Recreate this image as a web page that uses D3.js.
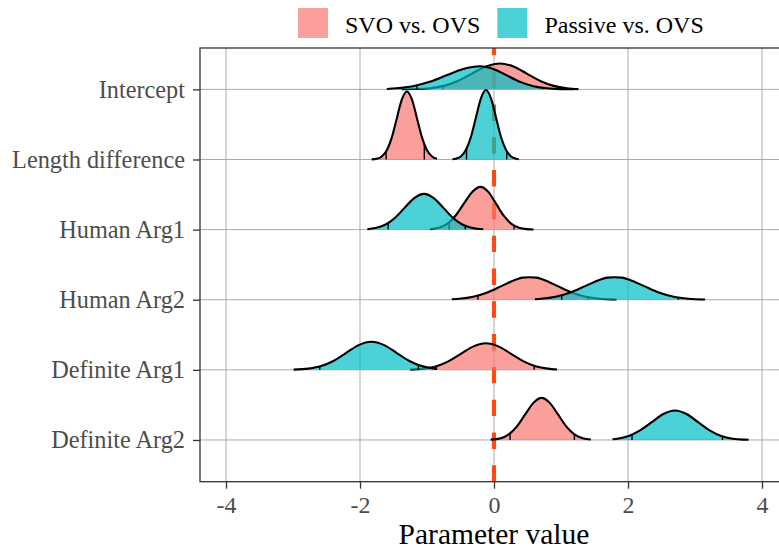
<!DOCTYPE html>
<html><head><meta charset="utf-8">
<script src="https://cdn.jsdelivr.net/npm/d3@7"></script>
<style>body{margin:0;background:#fff} svg{display:block}</style>
</head><body><svg id="c" width="779" height="549"></svg>
<script>
const categories = ["Intercept","Length difference","Human Arg1","Human Arg2","Definite Arg1","Definite Arg2"];
const seriesNames = ["SVO vs. OVS","Passive vs. OVS"];
const xTicks = [-4,-2,0,2,4];
const xTickLabels = ["-4","-2","0","2","4"];
const refLine = 0;

// density outlines: parameter values and ridge heights (in row units)
const svoX = [
  [-1.38,-1.17,-0.96,-0.75,-0.54,-0.33,-0.12,0.09,0.29,0.49,0.69,0.89,1.09,1.26],
  [-1.825,-1.75,-1.675,-1.60,-1.525,-1.45,-1.375,-1.30,-1.225,-1.15,-1.075,-1.0,-0.925,-0.85],
  [-0.955,-0.825,-0.70,-0.575,-0.45,-0.325,-0.20,-0.085,0.03,0.145,0.26,0.375,0.49,0.59],
  [-0.63,-0.52,-0.31,-0.10,0.11,0.32,0.425,0.53,0.635,0.74,0.95,1.16,1.37,1.58,1.83],
  [-1.25,-1.045,-0.86,-0.675,-0.49,-0.305,-0.12,0.065,0.25,0.435,0.62,0.805,0.94],
  [-0.05,0.10,0.22,0.343,0.465,0.588,0.71,0.833,0.955,1.078,1.20,1.323,1.445]
];
const svoH = [
  [0.002,0.005,0.016,0.05,0.12,0.225,0.326,0.37,0.326,0.225,0.12,0.05,0.016,0.004],
  [0.002,0.011,0.043,0.131,0.315,0.589,0.856,0.97,0.856,0.589,0.315,0.131,0.043,0.011],
  [0.006,0.027,0.082,0.198,0.37,0.538,0.61,0.538,0.37,0.198,0.082,0.027,0.007,0.002],
  [0.007,0.014,0.043,0.104,0.194,0.285,0.315,0.32,0.315,0.285,0.194,0.104,0.043,0.014,0.003],
  [0.004,0.017,0.051,0.124,0.231,0.335,0.38,0.335,0.231,0.124,0.051,0.017,0.006],
  [0.005,0.026,0.081,0.195,0.364,0.529,0.60,0.529,0.364,0.195,0.081,0.026,0.007]
];
const passiveX = [
  [-1.60,-1.46,-1.21,-0.96,-0.71,-0.46,-0.21,-0.01,0.19,0.39,0.59,0.79,0.99,1.20],
  [-0.62,-0.57,-0.495,-0.42,-0.345,-0.27,-0.195,-0.12,-0.045,0.03,0.105,0.18,0.255,0.33,0.37],
  [-1.89,-1.77,-1.625,-1.48,-1.335,-1.19,-1.045,-0.90,-0.755,-0.61,-0.465,-0.32,-0.16],
  [0.61,0.70,0.92,1.14,1.36,1.58,1.69,1.80,1.91,2.02,2.24,2.46,2.68,2.90,3.15],
  [-2.99,-2.77,-2.58,-2.39,-2.205,-2.02,-1.83,-1.64,-1.455,-1.27,-1.08,-0.895,-0.85],
  [1.77,1.84,2.01,2.18,2.355,2.528,2.70,2.873,3.045,3.218,3.39,3.563,3.735,3.80]
];
const passiveH = [
  [0.006,0.015,0.045,0.107,0.20,0.291,0.33,0.291,0.20,0.107,0.045,0.015,0.004,0.001],
  [0.004,0.011,0.043,0.134,0.32,0.60,0.873,0.99,0.873,0.60,0.32,0.134,0.043,0.011,0.004],
  [0.006,0.022,0.069,0.166,0.31,0.45,0.51,0.45,0.31,0.166,0.069,0.022,0.005],
  [0.008,0.014,0.043,0.104,0.194,0.285,0.315,0.32,0.315,0.285,0.194,0.104,0.043,0.014,0.003],
  [0.003,0.018,0.054,0.13,0.243,0.353,0.40,0.353,0.243,0.13,0.054,0.018,0.012],
  [0.011,0.018,0.057,0.137,0.255,0.37,0.42,0.37,0.255,0.137,0.057,0.018,0.005,0.003]
];
// 2.5% and 97.5% quantiles
const svoQ = [[-0.76,1.06],[-1.61,-1.04],[-0.67,0.30],[-0.24,1.41],[-0.86,0.60],[0.24,1.20]];
const passiveQ = [[-1.15,0.73],[-0.41,0.19],[-1.58,-0.43],[1.01,2.75],[-2.6,-1.13],[2.06,3.41]];

const colors = ["#F8766D","#00BFC4"];
const fillOpacity = 0.7;
const font = "'Liberation Serif','Times New Roman',serif";

const svg = d3.select("#c");
const P = {left:200, right:802, top:48, bottom:481.7};

const x = d3.scaleLinear().domain([-4,4]).range([226,762]);
const n = categories.length;
const y = d3.scaleLinear().domain([-0.595, 5.59]).range([P.bottom, P.top]);
const yCat = d3.scalePoint().domain(categories).range([y(n-1), y(0)]);

svg.append("defs").append("clipPath").attr("id","clip")
  .append("rect").attr("x",P.left).attr("y",P.top).attr("width",P.right-P.left).attr("height",P.bottom-P.top);

const panel = svg.append("g").attr("clip-path","url(#clip)");
// grid
panel.selectAll("line.vg").data(xTicks).join("line")
  .attr("x1",d=>x(d)).attr("x2",d=>x(d)).attr("y1",P.top).attr("y2",P.bottom)
  .attr("stroke","#ababab").attr("stroke-width",1);
panel.selectAll("line.hg").data(categories).join("line")
  .attr("x1",P.left).attr("x2",P.right).attr("y1",d=>yCat(d)).attr("y2",d=>yCat(d))
  .attr("stroke","#ababab").attr("stroke-width",1);

// reference line
panel.append("line").attr("x1",x(refLine)).attr("x2",x(refLine)).attr("y1",P.bottom).attr("y2",P.top)
  .attr("stroke","#FF4A10").attr("stroke-width",4.1).attr("stroke-dasharray","16.4,16.4");

function interp(xs,hs,q){
  for(let i=0;i<xs.length-1;i++){
    if(q>=xs[i] && q<=xs[i+1]){const t=(q-xs[i])/(xs[i+1]-xs[i]);return hs[i]+t*(hs[i+1]-hs[i]);}
  }
  return 0;
}

const sets = [[svoX,svoH,svoQ],[passiveX,passiveH,passiveQ]];
categories.forEach((cat,i)=>{
  const base = n-1-i;
  sets.forEach(([XS,HS,QS],s)=>{
    const pts = XS[i].map((v,k)=>({v, h:HS[i][k]}));
    const area = d3.area().curve(d3.curveMonotoneX).x(d=>x(d.v)).y0(y(base)).y1(d=>y(base+d.h));
    const line = d3.line().curve(d3.curveMonotoneX).x(d=>x(d.v)).y(d=>y(base+d.h));
    const g = panel.append("g");
    g.append("path").attr("d",area(pts)).attr("fill",colors[s]).attr("fill-opacity",fillOpacity);
    QS[i].forEach(q=>{
      g.append("line").attr("x1",x(q)).attr("x2",x(q)).attr("y1",y(base)).attr("y2",y(base+interp(XS[i],HS[i],q)))
        .attr("stroke","#000").attr("stroke-width",1.4);
    });
    g.append("path").attr("d",line(pts)).attr("fill","none").attr("stroke","#000").attr("stroke-width",2.1)
      .attr("stroke-linejoin","round");
  });
});

// border
svg.append("rect").attr("x",P.left).attr("y",P.top).attr("width",P.right-P.left).attr("height",P.bottom-P.top)
  .attr("fill","none").attr("stroke","#333").attr("stroke-width",1.3);

// axes
const xAxis = svg.append("g").attr("transform",`translate(0,${P.bottom})`)
  .call(d3.axisBottom(x).tickValues(xTicks).tickSize(7).tickSizeOuter(0).tickPadding(7)
    .tickFormat((d,i)=>xTickLabels[i]));
xAxis.select(".domain").remove();
xAxis.selectAll(".tick line").attr("stroke","#333").attr("stroke-width",1.3);
xAxis.selectAll(".tick text").attr("font-family",font).attr("font-size",24).attr("fill","#4d4d4d");

const yAxis = svg.append("g").attr("transform",`translate(${P.left},0)`)
  .call(d3.axisLeft(yCat).tickSize(7).tickSizeOuter(0).tickPadding(8));
yAxis.select(".domain").remove();
yAxis.selectAll(".tick line").attr("stroke","#333").attr("stroke-width",1.3);
yAxis.selectAll(".tick text").attr("font-family",font).attr("font-size",24.3).attr("fill","#4d4d4d");

svg.append("text").attr("x",(P.left+P.right)/2 - 7).attr("y",544.3).attr("text-anchor","middle")
  .attr("font-family",font).attr("font-size",29.5).attr("fill","#000").text("Parameter value");

// legend
let lx = 298;
seriesNames.forEach((name,s)=>{
  svg.append("rect").attr("x",lx).attr("y",8).attr("width",30).attr("height",30)
    .attr("fill",colors[s]).attr("fill-opacity",fillOpacity);
  const t = svg.append("text").attr("x",lx+47).attr("y",32.5).attr("font-family",font).attr("font-size",24)
    .attr("fill","#000").text(name);
  lx = lx + 47 + t.node().getComputedTextLength() + 17;
});
</script></body></html>
